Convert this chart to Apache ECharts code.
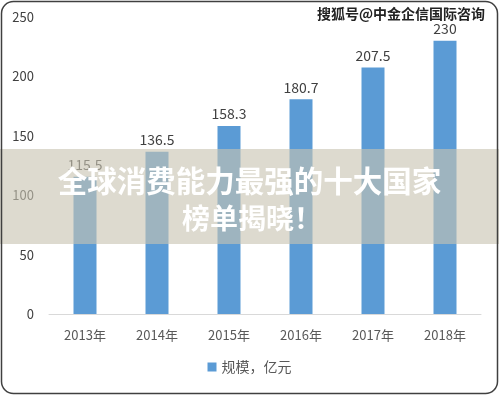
<!DOCTYPE html>
<html><head><meta charset="utf-8">
<script src="https://cdn.jsdelivr.net/npm/echarts@6/dist/echarts.min.js"></script>
<style>html,body{margin:0;padding:0;background:#fff}#c{width:499px;height:396px}</style>
</head><body><div id="c"></div>
<script>
var categories = ['2013年','2014年','2015年','2016年','2017年','2018年'];
var values = [115.5, 136.5, 158.3, 180.7, 207.5, 230];
var seriesName = '规模，亿元';
var yTicks = [0, 50, 100, 150, 200, 250];
var bannerLines = ['全球消费能力最强的十大国家', '榜单揭晓！'];
var watermark = '搜狐号@中金企信国际咨询';

var font = '"Noto Sans CJK SC", "Noto Sans", sans-serif';
var chart = echarts.init(document.getElementById('c'), null, {renderer:'canvas'});
chart.setOption({
  animation:false,
  backgroundColor:'#fff',
  grid:{left:49, right:18, top:17, bottom:82},
  legend:{bottom:17, left:'center', itemWidth:9, itemHeight:9, icon:'rect', itemGap:4,
    textStyle:{fontFamily:font, fontSize:14, color:'#595959'}, data:[seriesName]},
  xAxis:{type:'category', data:categories,
    axisLine:{lineStyle:{color:'#d9d9d9', width:1}}, axisTick:{show:false},
    axisLabel:{fontFamily:font, fontSize:13, color:'#595959', margin:15}},
  yAxis:{type:'value', min:yTicks[0], max:yTicks[yTicks.length-1], interval:50,
    axisLine:{show:false}, axisTick:{show:false}, splitLine:{show:false},
    axisLabel:{fontFamily:font, fontSize:13, color:'#404040', margin:15}},
  series:[{name:seriesName, type:'bar', data:values, barWidth:23,
    itemStyle:{color:'#5b9bd5'},
    label:{show:true, position:'top', distance:5, fontFamily:font, fontSize:14, color:'#404040'}}],
  graphic:[
    {type:'rect', z:100, shape:{x:0, y:149, width:499, height:95}, style:{fill:'rgba(200,196,178,0.62)'}},
    {type:'text', z:101, x:249.5, y:181, style:{text:bannerLines[0], fill:'#fff', font:'bold 29.5px '+font, textAlign:'center', textVerticalAlign:'middle', shadowBlur:2, shadowColor:'rgba(0,0,0,0.15)'}},
    {type:'text', z:101, x:252, y:218, style:{text:bannerLines[1], fill:'#fff', font:'bold 28px '+font, textAlign:'center', textVerticalAlign:'middle', shadowBlur:2, shadowColor:'rgba(0,0,0,0.15)'}},
    {type:'text', z:102, x:401, y:14, style:{text:watermark, fill:'#222', stroke:'#fff', lineWidth:3, font:'bold 14px '+font, textAlign:'center', textVerticalAlign:'middle'}},
    {type:'rect', z:103, shape:{x:1.5, y:1.5, width:496, height:392, r:12}, style:{fill:null, stroke:'#404040', lineWidth:1.5}}
  ]
});
</script></body></html>
